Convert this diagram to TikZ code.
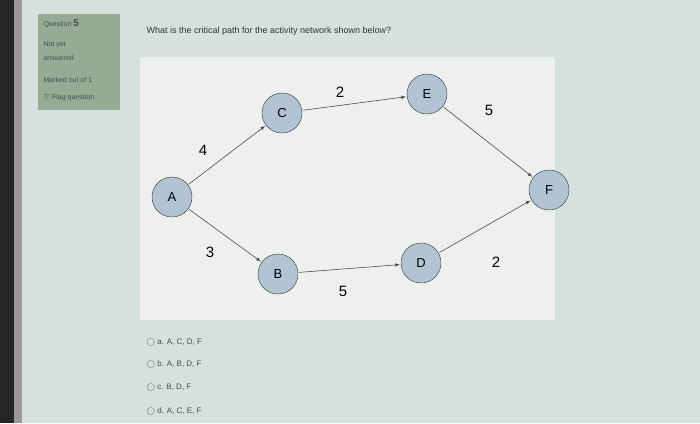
\documentclass[tikz,border=0pt]{standalone}
\usepackage{fontspec}
\setmainfont{Liberation Sans}
\begin{document}
\begin{tikzpicture}[x=1pt,y=-1pt,
  nd/.style={circle,draw=black!80,fill=nodefill,minimum size=40pt,inner sep=0pt,font=\fontsize{13}{13}\selectfont},
  ar/.style={draw=black!70,-latex,line width=0.6pt,shorten >=1pt,shorten <=1pt},
  wt/.style={font=\fontsize{15}{15}\selectfont},
  opt/.style={anchor=west,font=\fontsize{8}{8}\selectfont,text=black!70},
  lp/.style={anchor=west,font=\fontsize{7}{7}\selectfont,text=black!70}]
\definecolor{bgc}{RGB}{214,224,220}
\definecolor{panel}{RGB}{150,170,150}
\definecolor{nodefill}{RGB}{178,196,212}
\definecolor{boxc}{RGB}{238,240,238}
\useasboundingbox (0,0) rectangle (700,423);
\fill[bgc] (0,0) rectangle (700,423);
\fill[black!85] (0,0) rectangle (14,423);
\fill[black!40] (14,0) rectangle (22,423);
\fill[panel] (38,14) rectangle (120,110);
\fill[boxc] (140,57) rectangle (555,320);
\node[lp] (q) at (40,24) {Question \textbf{\fontsize{10}{10}\selectfont 5}};
\node[lp] (ny) at (40,45) {Not yet};
\node[lp] (an) at (40,58) {answered};
\node[lp] (mk) at (40,80) {Marked out of 1};
\node[lp] (fl) at (40,98) {\textcolor{black!60}{$\nabla$} Flag question};
\node[anchor=west,font=\fontsize{9}{9}\selectfont,text=black!80] (qt) at (143,31) {What is the critical path for the activity network shown below?};
\node[nd] (A) at (172,197) {A};
\node[nd] (C) at (282,113) {C};
\node[nd] (E) at (427,94) {E};
\node[nd] (F) at (549,190) {F};
\node[nd] (D) at (421,263) {D};
\node[nd] (B) at (278,274) {B};
\draw[ar] (A) -- (C);
\draw[ar] (C) -- (E);
\draw[ar] (E) -- (F);
\draw[ar] (A) -- (B);
\draw[ar] (B) -- (D);
\draw[ar] (D) -- (F);
\node[wt] (w1) at (203,150) {4};
\node[wt] (w2) at (340,92) {2};
\node[wt] (w3) at (489,110) {5};
\node[wt] (w4) at (210,252) {3};
\node[wt] (w5) at (343,291) {5};
\node[wt] (w6) at (496,262) {2};
\node[opt] (o1) at (143,342) {$\bigcirc$\ a. A, C, D, F};
\node[opt] (o2) at (143,364) {$\bigcirc$\ b. A, B, D, F};
\node[opt] (o3) at (143,387) {$\bigcirc$\ c. B, D, F};
\node[opt] (o4) at (143,411) {$\bigcirc$\ d. A, C, E, F};
\end{tikzpicture}
\end{document}
